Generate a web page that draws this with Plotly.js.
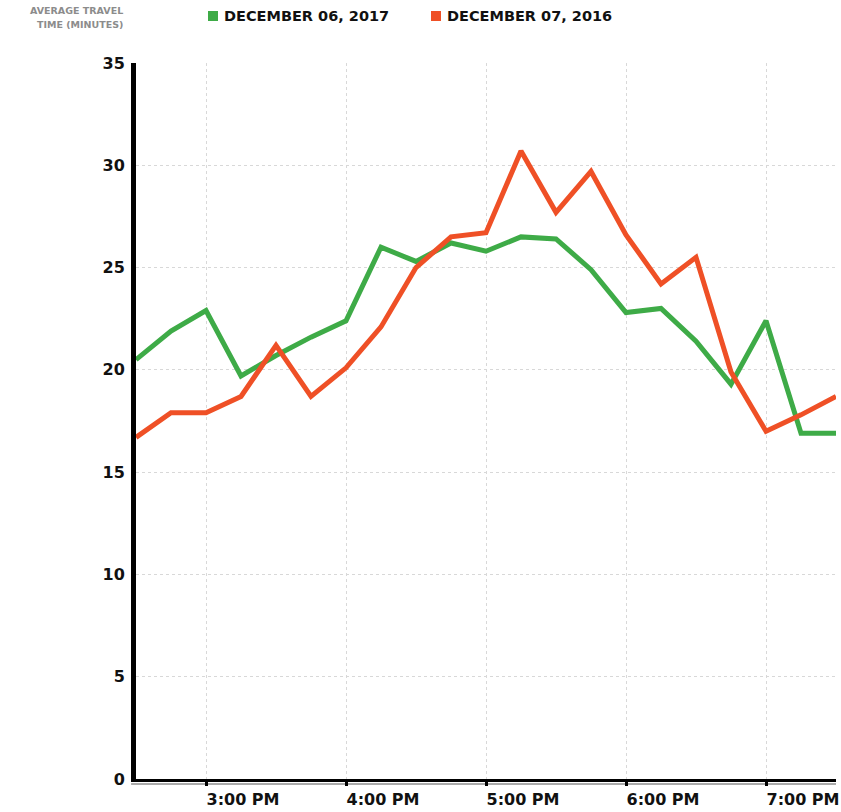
<!DOCTYPE html>
<html>
<head>
<meta charset="utf-8">
<script src="https://cdn.plot.ly/plotly-3.0.1.min.js"></script>
<style>html,body{margin:0;padding:0;background:#fff;}#chart{width:841px;height:812px;}</style>
</head>
<body>
<div id="chart"></div>
<script>
var times = ["2:30 PM","2:45 PM","3:00 PM","3:15 PM","3:30 PM","3:45 PM","4:00 PM","4:15 PM","4:30 PM","4:45 PM","5:00 PM","5:15 PM","5:30 PM","5:45 PM","6:00 PM","6:15 PM","6:30 PM","6:45 PM","7:00 PM","7:15 PM","7:30 PM"];
var dec2017 = [20.5,21.9,22.9,19.7,20.7,21.6,22.4,26.0,25.3,26.2,25.8,26.5,26.4,24.9,22.8,23.0,21.4,19.3,22.4,16.9,16.9];
var dec2016 = [16.7,17.9,17.9,18.7,21.2,18.7,20.1,22.1,25.0,26.5,26.7,30.7,27.7,29.7,26.6,24.2,25.5,19.9,17.0,17.8,18.7];
var seriesNames = ["DECEMBER 06, 2017","DECEMBER 07, 2016"];
var tickTimes = ["3:00 PM","4:00 PM","5:00 PM","6:00 PM","7:00 PM"];
var yTicks = [0,5,10,15,20,25,30,35];
var yTitleLines = ["AVERAGE TRAVEL","TIME (MINUTES)"];

var green = "#3eab47", red = "#ef5026";
var colors = [green, red];
var font = "DejaVu Sans, sans-serif";

var traces = [
  {x: times, y: dec2017, type: "scatter", mode: "lines", name: seriesNames[0], line: {color: green, width: 5}, showlegend: false, hoverinfo: "skip"},
  {x: times, y: dec2016, type: "scatter", mode: "lines", name: seriesNames[1], line: {color: red, width: 5}, showlegend: false, hoverinfo: "skip"}
];

var titleFont = {family: font, size: 9.5, weight: 700, color: "#8c8c8c"};
var legendFont = {family: font, size: 14.5, weight: 700, color: "#111"};

// manual legend (square swatch + text) placed in pixels relative to plot's top-left corner
var legendOffsets = [72, 295];
var shapes = [
  {type: "line", xref: "paper", yref: "paper", x0: -0.007, x1: 1, ysizemode: "pixel", yanchor: 0,
   y0: -5, y1: -5, line: {color: "#aaa", width: 2}, layer: "below"}
];
var annotations = [
  {xref: "paper", yref: "paper", x: 0, y: 1, xanchor: "right", yanchor: "middle", xshift: -11, yshift: 53,
   align: "right", showarrow: false, text: yTitleLines[0], font: titleFont},
  {xref: "paper", yref: "paper", x: 0, y: 1, xanchor: "right", yanchor: "middle", xshift: -11, yshift: 39,
   align: "right", showarrow: false, text: yTitleLines[1], font: titleFont}
];
seriesNames.forEach(function (nm, i) {
  var off = legendOffsets[i];
  shapes.push({type: "rect", xref: "paper", yref: "paper", xsizemode: "pixel", ysizemode: "pixel",
    xanchor: 0, yanchor: 1, x0: off, x1: off + 10, y0: 42, y1: 52,
    fillcolor: colors[i], line: {width: 0}});
  annotations.push({xref: "paper", yref: "paper", x: 0, y: 1, xanchor: "left", yanchor: "middle",
    xshift: off + 14, yshift: 47, showarrow: false, text: nm, font: legendFont});
});

var layout = {
  width: 841, height: 812,
  margin: {l: 136, r: 5, t: 63, b: 33, autoexpand: false},
  paper_bgcolor: "#fff", plot_bgcolor: "#fff",
  font: {family: font, color: "#111", size: 15, weight: 700},
  showlegend: false,
  xaxis: {type: "category", range: [0, 20], tickmode: "array", tickvals: tickTimes, ticktext: tickTimes,
          showgrid: true, gridcolor: "#d8d8d8", griddash: "dot", gridwidth: 1,
          showline: true, linecolor: "#000", linewidth: 3,
          ticks: "outside", ticklen: 4, tickwidth: 3, tickcolor: "#000",
          ticklabelshift: 37, ticklabelstandoff: 0,
          tickfont: {family: font, size: 16, weight: 700, color: "#111"}, zeroline: false, fixedrange: true},
  yaxis: {range: [0, 35], tickmode: "array", tickvals: yTicks,
          showgrid: true, gridcolor: "#d8d8d8", griddash: "dot", gridwidth: 1,
          showline: true, linecolor: "#000", linewidth: 5, ticks: "", ticklabelstandoff: 3,
          tickfont: {family: font, size: 16, weight: 700, color: "#111"}, zeroline: false, fixedrange: true},
  shapes: shapes,
  annotations: annotations
};

Plotly.newPlot("chart", traces, layout, {displayModeBar: false, staticPlot: true});
</script>
</body>
</html>
